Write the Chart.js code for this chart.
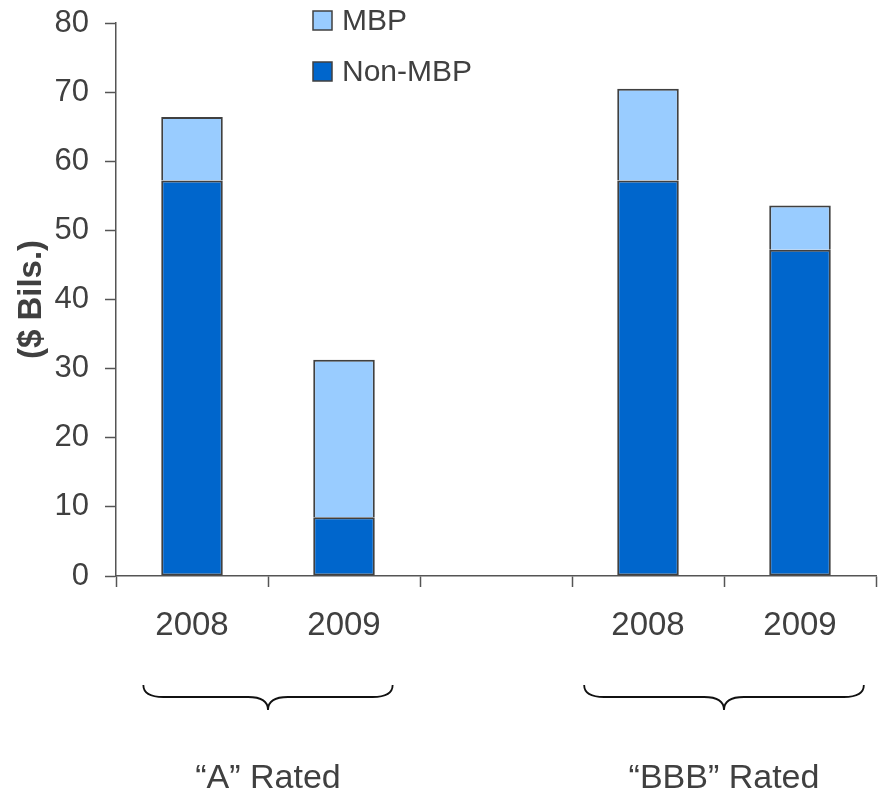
<!DOCTYPE html>
<html>
<head>
<meta charset="utf-8">
<script src="https://cdn.jsdelivr.net/npm/chart.js@4"></script>
<style>
  html, body { margin: 0; padding: 0; background: #fff; }
  #wrap { width: 884px; height: 796px; }
</style>
</head>
<body>
<div id="wrap"><canvas id="ratingChart" width="884" height="796"></canvas></div>
<script>
const years = ['2008', '2009', '', '2008', '2009'];
const nonMbp = [57.2, 8.5, null, 57.2, 47.2];
const mbp = [9.2, 22.8, null, 13.3, 6.4];
const yTicks = [0, 10, 20, 30, 40, 50, 60, 70, 80];
const groups = [
  { label: '\u201cA\u201d Rated', from: 0, to: 1 },
  { label: '\u201cBBB\u201d Rated', from: 3, to: 4 }
];
// how far each brace reaches past its outer bars, in category widths
const braceReach = [0.32, 0.42];

const FONT = '"Liberation Sans", Arial, sans-serif';
const TEXT = '#404040';
const AXIS = '#555555';

// legend, braces and group names under the axis
const extras = {
  id: 'extras',
  afterDraw(chart) {
    const ctx = chart.ctx;
    const x = chart.scales.x;
    const area = chart.chartArea;
    const slot = x.getPixelForTick(1) - x.getPixelForTick(0);

    ctx.save();
    // legend (MBP on top)
    const items = [chart.data.datasets[1], chart.data.datasets[0]];
    ctx.font = '30px ' + FONT;
    ctx.textBaseline = 'middle';
    items.forEach((ds, i) => {
      const lx = area.left + 197, ly = 11 + i * 51;
      ctx.fillStyle = ds.backgroundColor;
      ctx.fillRect(lx, ly, 19, 19);
      ctx.strokeStyle = TEXT;
      ctx.lineWidth = 1.5;
      ctx.strokeRect(lx, ly, 19, 19);
      ctx.fillStyle = TEXT;
      ctx.textAlign = 'left';
      ctx.fillText(ds.label, lx + 29, ly + 11);
    });

    // braces
    groups.forEach((g, k) => {
      const x1 = x.getPixelForTick(g.from) - slot * braceReach[k];
      const x2 = x.getPixelForTick(g.to) + slot * braceReach[k];
      const cx = (x.getPixelForTick(g.from) + x.getPixelForTick(g.to)) / 2;
      const top = 685, mid = 697, tip = 710, r = 20;
      ctx.beginPath();
      ctx.moveTo(x1, top);
      ctx.quadraticCurveTo(x1, mid, x1 + r, mid);
      ctx.lineTo(cx - r, mid);
      ctx.quadraticCurveTo(cx, mid, cx, tip);
      ctx.quadraticCurveTo(cx, mid, cx + r, mid);
      ctx.lineTo(x2 - r, mid);
      ctx.quadraticCurveTo(x2, mid, x2, top);
      ctx.strokeStyle = '#111';
      ctx.lineWidth = 1.8;
      ctx.stroke();

      ctx.fillStyle = TEXT;
      ctx.textAlign = 'center';
      ctx.textBaseline = 'alphabetic';
      ctx.font = '34px ' + FONT;
      ctx.fillText(g.label, cx, 788);
    });
    ctx.restore();
  }
};

const ctx = document.getElementById('ratingChart').getContext('2d');
new Chart(ctx, {
  type: 'bar',
  data: {
    labels: years,
    datasets: [
      {
        label: 'Non-MBP',
        data: nonMbp,
        backgroundColor: '#0066CC',
        borderColor: '#404040',
        borderWidth: 2,
        borderSkipped: false,
        categoryPercentage: 1,
        barPercentage: 0.405
      },
      {
        label: 'MBP',
        data: mbp,
        backgroundColor: '#99CCFF',
        borderColor: '#404040',
        borderWidth: 2,
        borderSkipped: 'bottom',
        categoryPercentage: 1,
        barPercentage: 0.405
      }
    ]
  },
  options: {
    responsive: false,
    animation: false,
    layout: { padding: { left: 8, right: 8, top: 23, bottom: 150 } },
    plugins: {
      legend: { display: false },
      tooltip: { enabled: false }
    },
    scales: {
      x: {
        stacked: true,
        grid: {
          offset: true,
          drawOnChartArea: false,
          drawTicks: true,
          tickLength: 11,
          tickColor: AXIS,
          tickWidth: 1.5
        },
        border: { color: AXIS, width: 1.5 },
        ticks: {
          padding: 19,
          color: TEXT,
          font: { family: FONT, size: 33 },
          maxRotation: 0,
          autoSkip: false
        },
        afterFit(scale) {
          scale.height = 70;
          scale.paddingLeft = 0;
          scale.paddingRight = 0;
        }
      },
      y: {
        stacked: true,
        min: 0,
        max: 80,
        afterBuildTicks(scale) { scale.ticks = yTicks.map(v => ({ value: v })); },
        grid: {
          drawOnChartArea: false,
          tickLength: 11,
          tickColor: AXIS,
          tickWidth: 1.5
        },
        border: { color: AXIS, width: 1.5 },
        ticks: {
          padding: 16,
          color: TEXT,
          font: { family: FONT, size: 31 }
        },
        title: {
          display: true,
          text: '($ Bils.)',
          color: TEXT,
          font: { family: FONT, size: 33, weight: 'bold' },
          padding: { top: 4, bottom: 0 }
        },
        afterFit(scale) {
          scale.width = 108;
          scale.paddingTop = 0;
          scale.paddingBottom = 0;
        }
      }
    }
  },
  plugins: [extras]
});
</script>
</body>
</html>
